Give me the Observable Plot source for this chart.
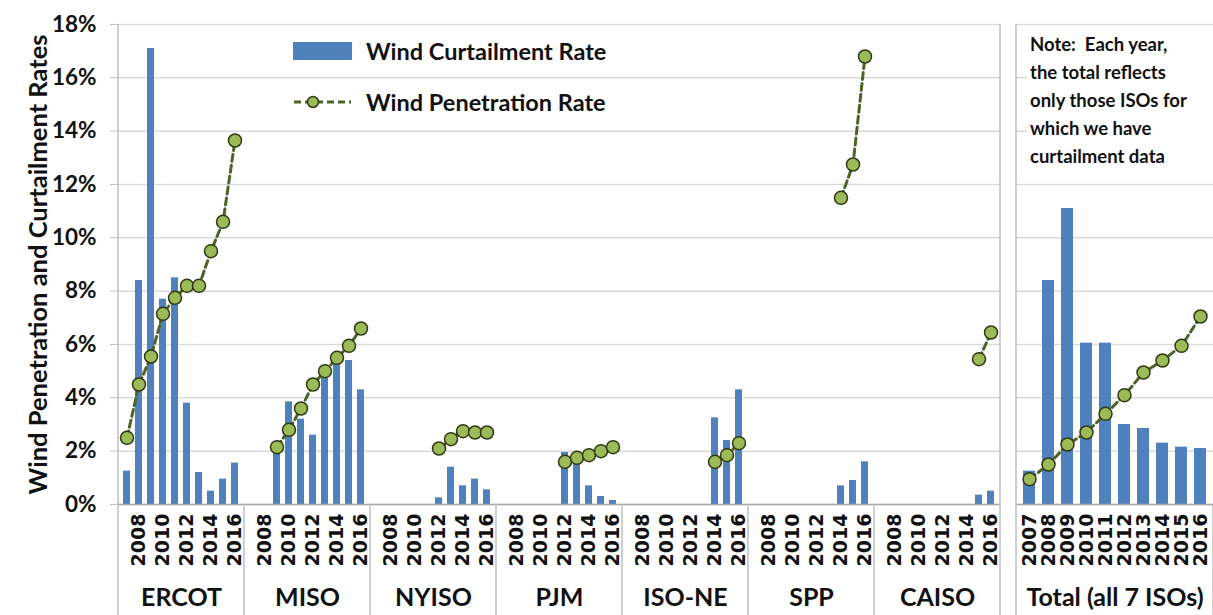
<!DOCTYPE html>
<html><head><meta charset="utf-8">
<script src="https://cdn.jsdelivr.net/npm/d3@7"></script>
<script src="https://cdn.jsdelivr.net/npm/@observablehq/plot@0.6"></script>
<style>
body{margin:0;background:#fff;font-family:Lato, sans-serif;}
#wrap{position:relative;width:1213px;height:615px;overflow:hidden;background:#fff;}
#main{position:absolute;left:0;top:0;}
#total{position:absolute;left:1008px;top:0;}
#legend{position:absolute;left:293px;top:37px;font-weight:bold;font-size:23.5px;color:#111;}
#legend .row{display:flex;align-items:center;height:28px;}
#legend .row + .row{margin-top:23px;}
#legend .sw{width:59px;height:18px;background:#4f81bd;margin-right:14px;}
#legend svg{margin-right:14px;}
#note{position:absolute;left:1027px;top:30px;width:184px;background:#fff;font-weight:bold;font-size:18.5px;line-height:28px;color:#111;padding:0 0 0 3px;}
</style></head><body>
<div id="wrap">
  <div id="main"></div>
  <div id="total"></div>
  <div id="legend">
    <div class="row"><div class="sw"></div><span>Wind Curtailment Rate</span></div>
    <div class="row"><svg width="59" height="16"><line x1="1" y1="8" x2="58" y2="8" stroke="#4f6228" stroke-width="3" stroke-dasharray="7,4"/><circle cx="20" cy="8" r="5.5" fill="#9bbb59" stroke="#2f3a12" stroke-width="1.5"/></svg><span>Wind Penetration Rate</span></div>
  </div>
  <div id="note">Note:&nbsp; Each year,<br>the total reflects<br>only those ISOs for<br>which we have<br>curtailment data</div>
</div>
<script>
// ---- data (percent) ----
const isos = ["ERCOT", "MISO", "NYISO", "PJM", "ISO-NE", "SPP", "CAISO"];
const years = ["2007", "2008", "2009", "2010", "2011", "2012", "2013", "2014", "2015", "2016"];
const evenYearTicks = ["2008", "2010", "2012", "2014", "2016"];
const totalLabel = "Total (all 7 ISOs)";
const yTicks = [0, 2, 4, 6, 8, 10, 12, 14, 16, 18];
const yLabel = "Wind Penetration and Curtailment Rates";

const ercotCurtailment = [1.25, 8.4, 17.1, 7.7, 8.5, 3.8, 1.2, 0.5, 0.95, 1.55];
const ercotPenetration = [2.5, 4.5, 5.55, 7.15, 7.75, 8.2, 8.2, 9.5, 10.6, 13.65];
const misoCurtailment = [null, null, 2.0, 3.85, 3.2, 2.6, 4.75, 5.3, 5.4, 4.3];
const misoPenetration = [null, null, 2.15, 2.8, 3.6, 4.5, 5.0, 5.5, 5.95, 6.6];
const nyisoCurtailment = [null, null, null, null, null, 0.25, 1.4, 0.7, 0.95, 0.55];
const nyisoPenetration = [null, null, null, null, null, 2.1, 2.45, 2.75, 2.7, 2.7];
const pjmCurtailment = [null, null, null, null, null, 1.95, 1.85, 0.7, 0.3, 0.15];
const pjmPenetration = [null, null, null, null, null, 1.6, 1.75, 1.85, 2.0, 2.15];
const isoneCurtailment = [null, null, null, null, null, null, null, 3.25, 2.4, 4.3];
const isonePenetration = [null, null, null, null, null, null, null, 1.6, 1.85, 2.3];
const sppCurtailment = [null, null, null, null, null, null, null, 0.7, 0.9, 1.6];
const sppPenetration = [null, null, null, null, null, null, null, 11.5, 12.75, 16.8];
const caisoCurtailment = [null, null, null, null, null, null, null, null, 0.35, 0.5];
const caisoPenetration = [null, null, null, null, null, null, null, null, 5.45, 6.45];
const totalCurtailment = [1.25, 8.4, 11.1, 6.05, 6.05, 3.0, 2.85, 2.3, 2.15, 2.1];
const totalPenetration = [0.95, 1.5, 2.25, 2.7, 3.4, 4.1, 4.95, 5.4, 5.95, 7.05];

// ---- tables built from the arrays ----
const curtailmentByIso = [ercotCurtailment, misoCurtailment, nyisoCurtailment, pjmCurtailment, isoneCurtailment, sppCurtailment, caisoCurtailment];
const penetrationByIso = [ercotPenetration, misoPenetration, nyisoPenetration, pjmPenetration, isonePenetration, sppPenetration, caisoPenetration];
const rows = [];
isos.forEach((iso, i) => years.forEach((year, j) => rows.push({iso, year, curtail: curtailmentByIso[i][j], pen: penetrationByIso[i][j]})));
const totalRows = years.map((year, j) => ({iso: totalLabel, year, curtail: totalCurtailment[j], pen: totalPenetration[j]}));

const BLUE = "#4f81bd", LINE = "#4f6228", DOTFILL = "#9bbb59", DOTSTROKE = "#2f3a12";
const GRID = "#d9d9d9", BORDER = "#bfbfbf", AXIS = "#a6a6a6";

function seriesMarks(data) {
  const bars = data.filter(d => d.curtail != null);
  const pts = data.filter(d => d.pen != null);
  return [
    Plot.barY(bars, {fx: "iso", x: "year", y: "curtail", fill: BLUE}),
    Plot.ruleY([0], {stroke: AXIS, strokeWidth: 1.5}),
    Plot.line(pts, {fx: "iso", x: "year", y: "pen", stroke: LINE, strokeWidth: 3, strokeDasharray: "7,4"}),
    Plot.dot(pts, {fx: "iso", x: "year", y: "pen", r: 6.5, fill: DOTFILL, stroke: DOTSTROKE, strokeWidth: 1.5})
  ];
}

const main = Plot.plot({
  width: 1008, height: 615,
  marginTop: 24, marginBottom: 111, marginLeft: 115, marginRight: 6,
  style: {fontFamily: "Lato, sans-serif", background: "transparent", color: "#111", overflow: "visible"},
  fx: {domain: isos, padding: 0},
  x: {domain: years, paddingInner: 0.4, paddingOuter: 0.2},
  y: {domain: [0, 18]},
  marks: [
    Plot.gridY(yTicks, {stroke: GRID, strokeOpacity: 1, strokeWidth: 1.5}),
    Plot.axisY(yTicks, {tickFormat: d => d + "%", tickSize: 8, tickPadding: 14, stroke: BORDER, fill: "#111", fontSize: 22.5, fontWeight: "bold", label: null}),
    Plot.axisY([], {label: yLabel, labelAnchor: "center", labelArrow: "none", labelOffset: 90, fontSize: 25.5, fontWeight: "bold", tickSize: 0}),
    Plot.axisX({ticks: evenYearTicks, tickRotate: -90, tickSize: 0, tickPadding: 9, fontSize: 19, fontFamily: "DejaVu Sans", fontWeight: "bold", label: null}),
    Plot.axisFx({anchor: "bottom", tickSize: 0, tickPadding: 84, fontSize: 25, fontWeight: "bold", label: null}),
    ...seriesMarks(rows)
  ]
});

const total = Plot.plot({
  width: 205, height: 615,
  marginTop: 24, marginBottom: 111, marginLeft: 8, marginRight: 0,
  style: {fontFamily: "Lato, sans-serif", background: "transparent", color: "#111", overflow: "visible"},
  fx: {domain: [totalLabel], padding: 0},
  x: {domain: years, paddingInner: 0.35, paddingOuter: 0.2},
  y: {domain: [0, 18], axis: null},
  marks: [
    Plot.gridY(yTicks, {stroke: GRID, strokeOpacity: 1, strokeWidth: 1.5}),
    Plot.axisX({tickRotate: -90, tickSize: 0, tickPadding: 9, fontSize: 19, fontFamily: "DejaVu Sans", fontWeight: "bold", label: null}),
    Plot.axisFx({anchor: "bottom", tickSize: 0, tickPadding: 84, fontSize: 25, fontWeight: "bold", label: null}),
    ...seriesMarks(totalRows)
  ]
});

// group dividers derived from the plots' own scales
function dividers(chart, fullEdges) {
  const fx = chart.scale("fx"), y = chart.scale("y");
  const H = +chart.getAttribute("height");
  const bw = fx.bandwidth;
  const starts = fx.domain.map(d => fx.apply(d));
  const edges = starts.concat([starts[starts.length - 1] + bw]);
  const g = d3.select(chart).append("g").attr("stroke", BORDER).attr("stroke-width", 1.5);
  edges.forEach((x, i) => {
    const full = fullEdges.includes(i === 0 ? "first" : i === edges.length - 1 ? "last" : "inner");
    g.append("line").attr("x1", x).attr("x2", x).attr("y1", full ? y.apply(18) : y.apply(0)).attr("y2", H);
  });
}
dividers(main, ["first", "last"]);
dividers(total, ["first"]);

document.getElementById("main").appendChild(main);
document.getElementById("total").appendChild(total);
</script>
</body></html>
